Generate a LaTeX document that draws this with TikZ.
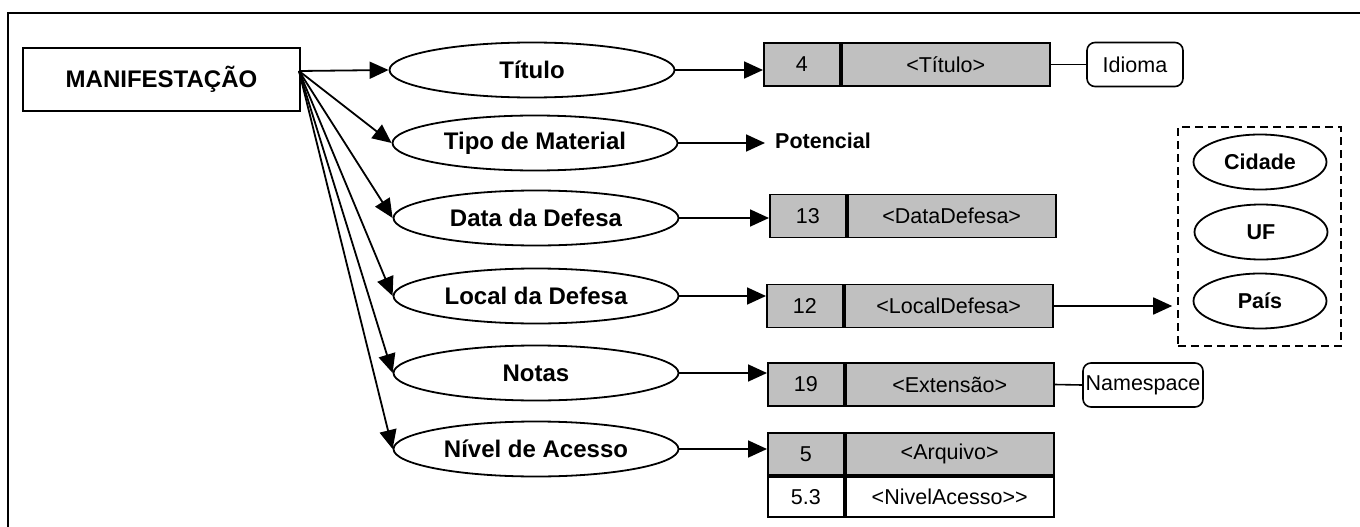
\documentclass[tikz,border=0pt]{standalone}
\usepackage{fontspec}
\setmainfont{Liberation Sans}
\usetikzlibrary{shapes.geometric,arrows.meta,positioning}
\definecolor{cellgray}{RGB}{192,192,192}

\begin{document}
\begin{tikzpicture}[x=1pt,y=-1pt,
   elem/.style={draw, ellipse, line width=1.8pt, minimum width=285pt, minimum height=55pt, inner sep=0pt, font=\fontsize{24}{28}\selectfont\bfseries},
   sub/.style={elem, minimum width=133pt, font=\fontsize{21.5}{25}\selectfont\bfseries},
   cell/.style={draw, line width=1.8pt, fill=cellgray, minimum height=43pt, inner sep=0pt, anchor=west, font=\fontsize{21.5}{25}\selectfont},
   num/.style={cell, minimum width=76pt},
   tag/.style={cell, minimum width=208pt},
   attr/.style={draw, rounded corners=8pt, line width=1.6pt, minimum height=44pt, inner sep=0pt, font=\fontsize{21.5}{25}\selectfont},
   arr/.style={line width=1.8pt, -{Triangle[length=19pt,width=17pt]}}]
\useasboundingbox (0,0) rectangle (1360,527);
\draw[line width=2pt] (8,545) -- (8,13) -- (1380,13);

\node[draw, line width=1.8pt, minimum width=277pt, minimum height=63pt, font=\fontsize{24}{28}\selectfont\bfseries] (manif) at (161.5,79.5) {MANIFESTAÇÃO};
\coordinate (fan) at (299,71);

\node[elem] (titulo) at (532,70) {Título};
\node[elem] (tipo) at (535,143) {Tipo de Material};
\node[elem] (data) at (536,218) {Data da Defesa};
\node[elem] (local) at (536,296) {Local da Defesa};
\node[elem] (notas) at (536,373) {Notas};
\node[elem] (nivel) at (536,449) {Nível de Acesso};
\foreach \e in {titulo,tipo,data,local,notas,nivel}
   \draw[arr] (fan) -- (\e.west);

% fields
\node[num] (n4) at (763,64.5) {4};
\node[tag, right=0pt of n4] (t4) {<Título>};
\node[attr, minimum width=96pt] (idioma) at (1135,64.5) {Idioma};
\node[anchor=west, inner sep=0pt, font=\fontsize{21.5}{25}\selectfont\bfseries] (pot) at (775,141) {Potencial};
\node[num] (n13) at (769,216) {13};
\node[tag, right=0pt of n13] (t13) {<DataDefesa>};
\node[num] (n12) at (766,306) {12};
\node[tag, right=0pt of n12] (t12) {<LocalDefesa>};
\node[num] (n19) at (767,384.5) {19};
\node[tag, right=0pt of n19] (t19) {<Extensão>};
\node[attr, minimum width=120pt] (ns) at (1143,385) {Namespace};
\node[num, minimum height=42pt] (n5) at (767,454) {5};
\node[tag, minimum height=42pt, right=0pt of n5] (t5) {<Arquivo>};
\node[num, minimum height=40pt, fill=white, below=0pt of n5] (n53) {5.3};
\node[tag, minimum height=40pt, fill=white, right=0pt of n53] (t53) {<NivelAcesso>{}>};

\draw[arr] (titulo.east) -- (n4.west |- titulo.east);
\draw[arr, shorten >=10pt] (tipo.east) -- (pot.west |- tipo.east);
\draw[arr] (data.east) -- (n13.west |- data.east);
\draw[arr] (local.east) -- (n12.west |- local.east);
\draw[arr] (notas.east) -- (n19.west |- notas.east);
\draw[arr] (nivel.east) -- (n5.west |- nivel.east);
\draw[line width=1.6pt] (t4.east) -- (idioma.west);
\draw[line width=1.6pt] (t19.east) -- (ns.west);

% place
\node[draw, dash pattern=on 8pt off 5pt, line width=1.6pt, minimum width=163pt, minimum height=219pt] (lugar) at (1259.5,236.5) {};
\node[sub] (cidade) at (1260,162) {Cidade};
\node[sub] (uf) at (1261,232) {UF};
\node[sub] (pais) at (1260,301) {País};
\draw[arr, shorten >=5pt] (t12.east) -- (lugar.west |- t12.east);
\end{tikzpicture}
\end{document}
